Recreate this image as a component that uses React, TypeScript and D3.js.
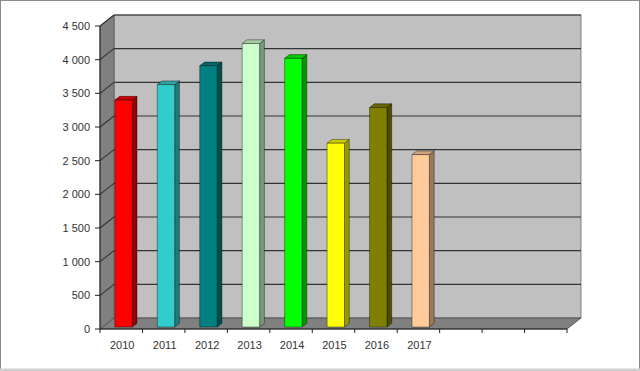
import React from "react";
import * as d3 from "d3";

const years = ["2010", "2011", "2012", "2013", "2014", "2015", "2016", "2017", "", "", ""];
const values = [3370, 3600, 3880, 4210, 3990, 2730, 3260, 2560];
const barColors = ["#ff0000", "#33cccc", "#008080", "#ccffcc", "#00ff00", "#ffff00", "#808000", "#ffcc99"];
const yTicks = [0, 500, 1000, 1500, 2000, 2500, 3000, 3500, 4000, 4500];

const W = 640;
const H = 371;
const left = 100;
const right = 567;
const base = 329;
const top = 26;
const DX = 14;
const DY = -11;

function shade(c: string, k: number) {
  const r = d3.rgb(c);
  return d3.rgb(r.r * k, r.g * k, r.b * k).formatHex();
}

export default function App() {
  const x = d3.scaleBand<string>().domain(years.map((_, i) => String(i))).range([left, right]).padding(0);
  const y = d3.scaleLinear().domain([0, 4500]).range([base, top]);
  const bw = x.bandwidth();
  const fmt = (v: number) => d3.format(",")(v).replace(/,/g, "\u00a0");
  const off = (f: number) => [DX * f, DY * f];
  const f0 = 0.18;
  const f1 = 0.52;

  return (
    <svg width={W} height={H} style={{ position: "fixed", left: 0, top: 0, background: "#fff" }} fontFamily="'Liberation Sans', Arial, sans-serif">
      <rect x={0.5} y={0.5} width={W - 1} height={H - 1} fill="#fff" stroke="#8a8a8a" />
      <rect x={0} y={368.5} width={W} height={2.5} fill="#d0d0d0" />
      {/* back wall */}
      <rect x={left + DX} y={top + DY} width={right - left} height={base - top} fill="#c0c0c0" stroke="#666" strokeWidth={0.8} />
      {/* left wall */}
      <polygon points={`${left},${base} ${left + DX},${base + DY} ${left + DX},${top + DY} ${left},${top}`} fill="#808080" stroke="#555" strokeWidth={0.8} />
      {/* floor */}
      <polygon points={`${left},${base} ${right},${base} ${right + DX},${base + DY} ${left + DX},${base + DY}`} fill="#808080" stroke="#444" strokeWidth={0.8} />
      {/* gridlines */}
      {yTicks.slice(1).map((t) => (
        <g key={t}>
          <line x1={left} y1={y(t)} x2={left + DX} y2={y(t) + DY} stroke="#333" strokeWidth={1.1} />
          <line x1={left + DX} y1={y(t) + DY} x2={right + DX} y2={y(t) + DY} stroke="#333" strokeWidth={1.1} />
        </g>
      ))}
      {/* axes */}
      <line x1={left} y1={top} x2={left} y2={base} stroke="#222" />
      <line x1={left} y1={base} x2={right} y2={base} stroke="#222" />
      {yTicks.map((t) => (
        <g key={t}>
          <line x1={left - 5} x2={left} y1={y(t)} y2={y(t)} stroke="#222" />
          <text x={90} y={y(t)} dy="0.35em" textAnchor="end" fontSize={11} fill="#333">
            {fmt(t)}
          </text>
        </g>
      ))}
      {years.map((yr, i) => (
        <g key={i}>
          <line x1={x(String(i))! + bw} x2={x(String(i))! + bw} y1={base} y2={base + 4} stroke="#222" />
          {i === 0 && <line x1={left} x2={left} y1={base} y2={base + 4} stroke="#222" />}
          <text x={x(String(i))! + bw / 2 + 1} y={349} textAnchor="middle" fontSize={11} fill="#333">
            {yr}
          </text>
        </g>
      ))}
      {/* bars */}
      {values.map((v, i) => {
        const [ax, ay] = off(f0);
        const [bx, by] = off(f1);
        const x0 = x(String(i))! + bw * 0.29 + ax;
        const x1 = x0 + bw * 0.41;
        const yb = y(0) + ay;
        const yt = y(v) + ay;
        const ddx = bx - ax;
        const ddy = by - ay;
        const c = barColors[i];
        return (
          <g key={i} stroke="rgba(0,0,0,0.55)" strokeWidth={0.7} strokeLinejoin="round">
            <polygon points={`${x1},${yb} ${x1 + ddx},${yb + ddy} ${x1 + ddx},${yt + ddy} ${x1},${yt}`} fill={shade(c, 0.6)} />
            <polygon points={`${x0},${yt} ${x1},${yt} ${x1 + ddx},${yt + ddy} ${x0 + ddx},${yt + ddy}`} fill={shade(c, 0.8)} />
            <rect x={x0} y={yt} width={x1 - x0} height={yb - yt} fill={c} />
          </g>
        );
      })}
    </svg>
  );
}
